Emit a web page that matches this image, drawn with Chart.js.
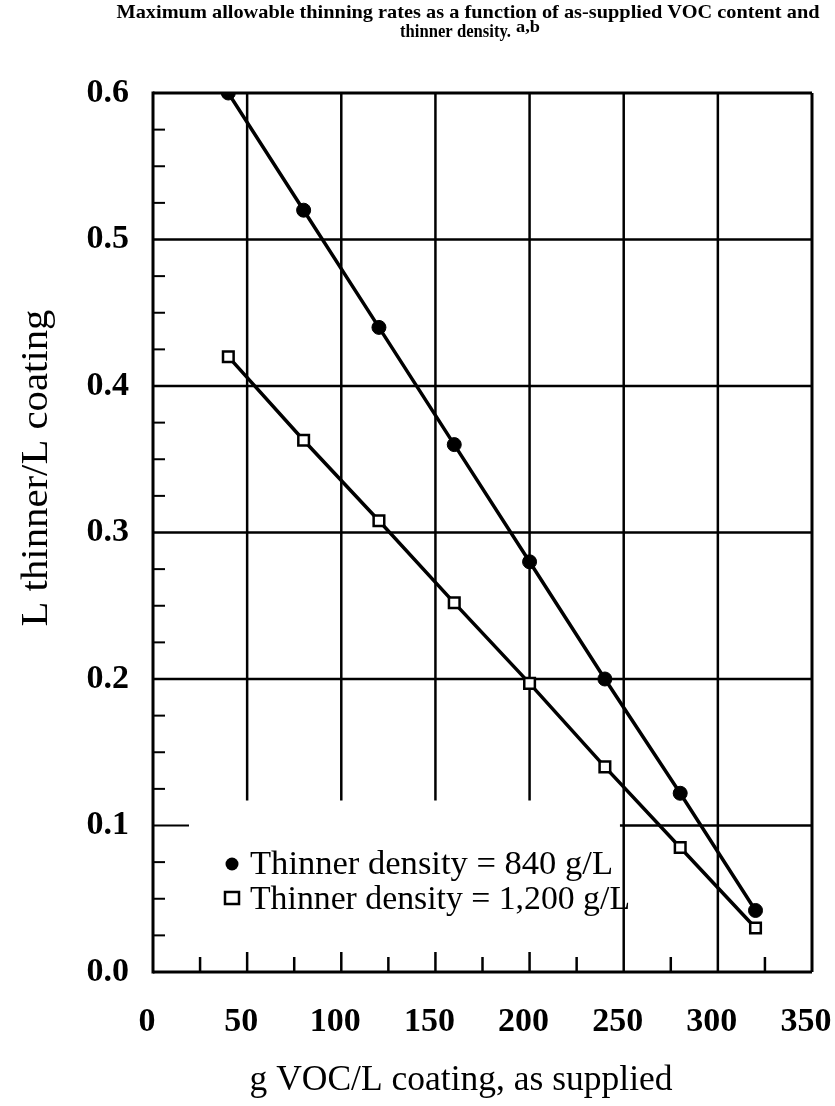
<!DOCTYPE html>
<html>
<head>
<meta charset="utf-8">
<script src="https://cdn.jsdelivr.net/npm/chart.js@4.4.0/dist/chart.umd.min.js"></script>
<style>
  body { margin: 0; background: #fff; }
  #wrap { width: 835px; height: 1106px; }
</style>
</head>
<body>
<div id="wrap"><canvas id="thinChart" width="835" height="1106"></canvas></div>
<script>
// Data
const vocContent = [40, 80, 120, 160, 200, 240, 280, 320];          // g VOC/L coating
const thinner840 = [0.60, 0.52, 0.44, 0.36, 0.28, 0.20, 0.122, 0.042]; // L thinner/L coating
const thinner1200 = [0.42, 0.363, 0.308, 0.252, 0.197, 0.14, 0.085, 0.03];
const seriesLabels = ['Thinner density = 840 g/L', 'Thinner density = 1,200 g/L'];
const xTicks = [0, 50, 100, 150, 200, 250, 300, 350];
const yTicks = [0, 0.1, 0.2, 0.3, 0.4, 0.5, 0.6];
const titleLines = ['Maximum allowable thinning rates as a function of as-supplied VOC content and', 'thinner density.'];
const titleNote = 'a,b';
const xTitle = 'g VOC/L coating, as supplied';
const yTitle = 'L thinner/L coating';

const serif = '"Liberation Serif", "Times New Roman", serif';

function toPoints(xs, ys) {
    return xs.map((x, i) => ({ x: x, y: ys[i] }));
}

// text squeezed/stretched sideways to a given width (the scan is wider than Liberation)
function fitText(ctx, text, x, y, width, align) {
    const w = ctx.measureText(text).width;
    const k = width / w;
    ctx.save();
    ctx.translate(x, y);
    ctx.scale(k, 1);
    ctx.textAlign = align || 'left';
    ctx.fillText(text, 0, 0);
    ctx.restore();
    return width;
}

// draws the odd grid of the original: partial lines and inner ticks
const gridPlugin = {
    id: 'paperGrid',
    beforeDatasetsDraw(chart) {
        const ctx = chart.ctx;
        const xs = chart.scales.x, ys = chart.scales.y;
        const X = v => xs.getPixelForValue(v);
        const Y = v => ys.getPixelForValue(v);
        ctx.save();
        ctx.strokeStyle = '#000';
        ctx.lineCap = 'butt';

        function line(x1, y1, x2, y2, w) {
            ctx.lineWidth = w;
            ctx.beginPath();
            ctx.moveTo(x1, y1);
            ctx.lineTo(x2, y2);
            ctx.stroke();
        }

        // horizontal grid lines
        [0.2, 0.3, 0.4, 0.5].forEach(v => line(X(0), Y(v), X(350), Y(v), 2.5));
        line(X(248), Y(0.1), X(350), Y(0.1), 2.5);
        // vertical grid lines
        [50, 100, 150, 200].forEach(v => line(X(v), Y(0.6), X(v), Y(0.117), 2.5));
        [250, 300].forEach(v => line(X(v), Y(0.6), X(v), Y(0), 2.5));

        // y minor ticks (inside), every 0.025
        for (let i = 1; i < 24; i++) {
            if (i % 4 === 0) continue;
            const v = i * 0.025;
            line(X(0), Y(v), X(0) + 12, Y(v), 2);
        }
        line(X(0), Y(0.1), X(0) + 36, Y(0.1), 2);

        // x ticks along bottom (inside)
        for (let v = 25; v < 350; v += 25) {
            if (v >= 250 && v % 50 === 0) continue;
            const len = v % 50 === 0 ? 20 : 15;
            line(X(v), Y(0), X(v), Y(0) - len, 2.5);
        }

        // frame
        line(X(0), Y(0.6) - 1.5, X(0), Y(0) + 1.5, 3);
        line(X(0), Y(0), X(350), Y(0), 3);
        line(X(0), Y(0.6), X(350), Y(0.6), 3);
        line(X(350), Y(0.6), X(350), Y(0), 3);
        ctx.restore();
    },
    afterDraw(chart) {
        const ctx = chart.ctx;
        ctx.save();
        ctx.fillStyle = '#000';
        ctx.textBaseline = 'alphabetic';

        // title
        ctx.font = 'bold 19px ' + serif;
        fitText(ctx, titleLines[0], 468, 18, 703, 'center');
        fitText(ctx, titleLines[1], 400, 37, 111, 'left');
        ctx.font = 'bold 16px ' + serif;
        fitText(ctx, titleNote, 516, 32, 24, 'left');

        // axis titles
        ctx.font = '36px ' + serif;
        fitText(ctx, xTitle, 461, 1090, 423, 'center');
        ctx.save();
        ctx.translate(47, 468);
        ctx.rotate(-Math.PI / 2);
        ctx.font = '38px ' + serif;
        fitText(ctx, yTitle, 0, 0, 317, 'center');
        ctx.restore();

        // legend inside plot
        ctx.font = '34px ' + serif;
        fitText(ctx, seriesLabels[0], 250, 874, 363, 'left');
        fitText(ctx, seriesLabels[1], 250, 909, 380, 'left');
        ctx.beginPath();
        ctx.arc(232, 864, 6.5, 0, Math.PI * 2);
        ctx.fill();
        ctx.lineWidth = 2.5;
        ctx.strokeStyle = '#000';
        ctx.fillStyle = '#fff';
        ctx.fillRect(225, 892, 14, 12);
        ctx.strokeRect(225, 892, 14, 12);
        ctx.restore();
    }
};

const ctx = document.getElementById('thinChart').getContext('2d');
const chart = new Chart(ctx, {
    type: 'scatter',
    data: {
        datasets: [{
            label: seriesLabels[0],
            data: toPoints(vocContent, thinner840),
            showLine: true,
            borderColor: '#000',
            borderWidth: 3.5,
            pointStyle: 'circle',
            pointRadius: 7,
            pointBackgroundColor: '#000',
            pointBorderColor: '#000',
            pointBorderWidth: 1
        }, {
            label: seriesLabels[1],
            data: toPoints(vocContent, thinner1200),
            showLine: true,
            borderColor: '#000',
            borderWidth: 3.5,
            pointStyle: 'rect',
            pointRadius: 7.5,
            pointBackgroundColor: '#fff',
            pointBorderColor: '#000',
            pointBorderWidth: 2.5
        }]
    },
    options: {
        responsive: false,
        animation: false,
        devicePixelRatio: 1,
        layout: { padding: { top: 93, right: 23, left: 0, bottom: 0 } },
        plugins: {
            legend: { display: false },
            title: { display: false },
            tooltip: { enabled: false }
        },
        scales: {
            x: {
                type: 'linear',
                min: 0,
                max: 350,
                afterBuildTicks: s => { s.ticks = xTicks.map(v => ({ value: v })); },
                afterFit: s => { s.height = 134; s.paddingLeft = 0; s.paddingRight = 0; },
                grid: { display: false, drawTicks: false },
                border: { display: false },
                ticks: {
                    color: '#000',
                    padding: 30,
                    maxRotation: 0,
                    labelOffset: -6,
                    font: { family: serif, size: 34, weight: 'bold' }
                }
            },
            y: {
                type: 'linear',
                min: 0,
                max: 0.6,
                afterBuildTicks: s => { s.ticks = yTicks.map(v => ({ value: v })); },
                afterFit: s => { s.width = 153; s.paddingTop = 0; s.paddingBottom = 0; },
                grid: { display: false, drawTicks: false },
                border: { display: false },
                ticks: {
                    color: '#000',
                    padding: 24,
                    font: { family: serif, size: 34, weight: 'bold' },
                    callback: v => v.toFixed(1)
                }
            }
        }
    },
    plugins: [gridPlugin]
});
</script>
</body>
</html>
